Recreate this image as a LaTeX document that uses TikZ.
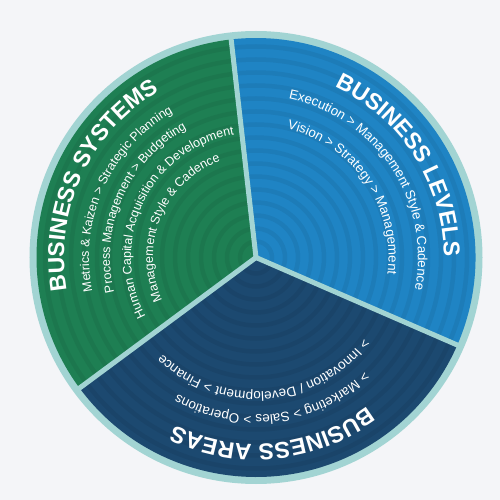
\documentclass[tikz,border=0pt]{standalone}
\usepackage{fontspec}
\setmainfont{Liberation Sans}
\usetikzlibrary{decorations.text}
\definecolor{pagebg}{HTML}{F4F5F8}
\definecolor{rim}{HTML}{A2D4D3}
\definecolor{sysgreen}{HTML}{1E7F53}
\definecolor{lvlblue}{HTML}{1F84C4}
\definecolor{areanavy}{HTML}{1C4970}
\newcommand{\titlefont}{\fontsize{23}{23}\selectfont\bfseries\color{white}}
\newcommand{\greenfont}{\fontsize{12.5}{12.5}\selectfont\color{white}}
\newcommand{\bluefont}{\fontsize{13.3}{13.3}\selectfont\color{white}}
\newcommand{\navyfont}{\fontsize{13.5}{13.5}\selectfont\color{white}}
% #1 radius, #2 centre angle, #3 font, #4 text (clockwise, tops outward)
\newcommand{\arctext}[4]{%
  \path[decorate, decoration={text along path, text align=center, text={|#3|#4}}]
    (#2+70:#1) arc[start angle=#2+70, end angle=#2-70, radius=#1];}
\begin{document}
\begin{tikzpicture}[x=1pt,y=1pt,
  rings/.style={draw=black, draw opacity=0.06, line width=4.5pt},
  divider/.style={draw=rim, line width=5pt},
  sectorfill/.style={draw=none}]
\useasboundingbox[fill=pagebg] (-256,-242.5) rectangle (244,257.5);
% rim disk
\fill[rim] (0,0) circle (226.5);
% sectors
\fill[sectorfill, sysgreen] (0,0) -- (96.5:219.5) arc[start angle=96.5, end angle=216.5, radius=219.5] -- cycle;
\fill[sectorfill, lvlblue] (0,0) -- (-23.5:219.5) arc[start angle=-23.5, end angle=96.5, radius=219.5] -- cycle;
\fill[sectorfill, areanavy] (0,0) -- (216.5:219.5) arc[start angle=216.5, end angle=336.5, radius=219.5] -- cycle;
% concentric ring texture
\begin{scope}
  \clip (0,0) circle (219.5);
  \foreach \r in {16,29,...,220} \draw[rings] (0,0) circle (\r);
\end{scope}
% dividers
\coordinate (c) at (0,0);
\coordinate (d1) at (96.5:222);
\coordinate (d2) at (216.5:222);
\coordinate (d3) at (-23.5:222);
\draw[divider] (c) -- (d1);
\draw[divider] (c) -- (d2);
\draw[divider] (c) -- (d3);
% Business systems
\arctext{192}{154.9}{\titlefont}{BUSINESS SYSTEMS}
\arctext{167}{155.7}{\greenfont}{Metrics {\&} Kaizen > Strategic Planning}
\arctext{146}{156}{\greenfont}{Process Management > Budgeting}
\arctext{125}{154}{\greenfont}{Human Capital Acquisition {\&} Development}
\arctext{103}{157.3}{\greenfont}{Management Style {\&} Cadence}
% Business levels
\arctext{188}{32.8}{\titlefont}{BUSINESS LEVELS}
\arctext{162}{33.5}{\bluefont}{Execution > Management Style {\&} Cadence}
\arctext{132.5}{34.6}{\bluefont}{Vision > Strategy > Management}
% Business areas
\arctext{186.5}{-84.55}{\titlefont}{BUSINESS AREAS}
\arctext{157.5}{-83.2}{\navyfont}{> Marketing > Sales > Operations}
\arctext{134.5}{-85.5}{\navyfont}{> Innovation / Development > Finance}
\end{tikzpicture}
\end{document}
